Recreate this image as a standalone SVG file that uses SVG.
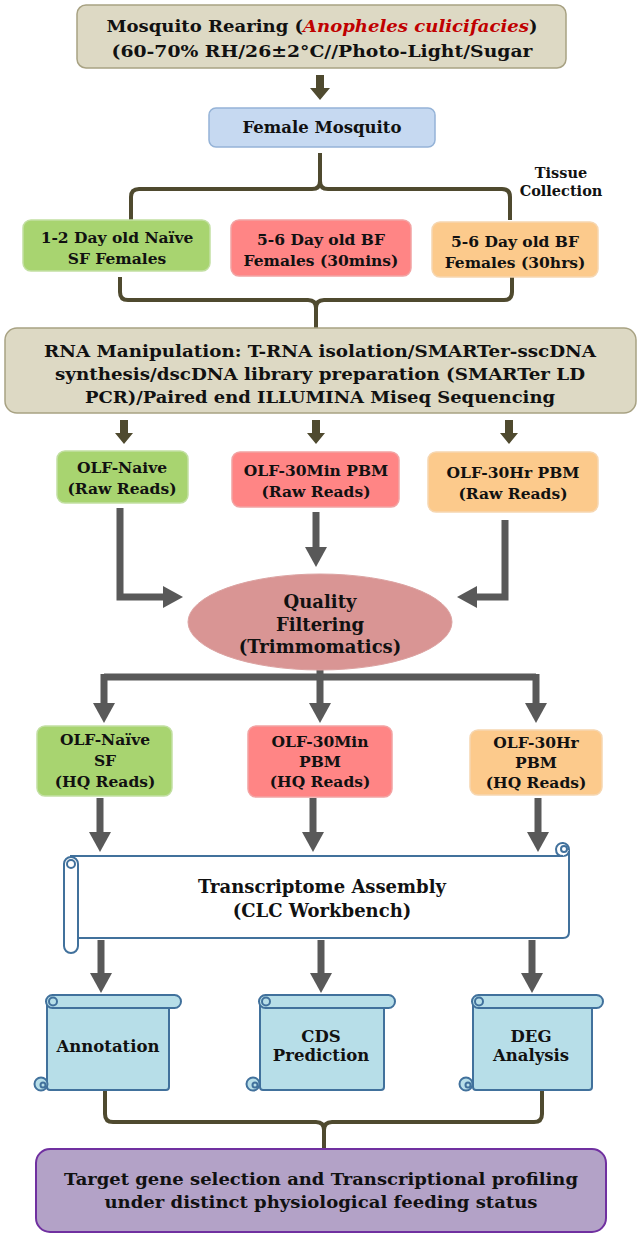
<svg xmlns="http://www.w3.org/2000/svg" width="638" height="1237" viewBox="0 0 638 1237">
<defs>
<style>
text{font-family:"DejaVu Serif","Liberation Serif",serif;font-weight:bold;fill:#111;text-anchor:middle}
.t17{font-size:17px}.t18{font-size:18px}.t16{font-size:16.5px}.t15{font-size:15.5px}.t14{font-size:14.5px}
.beige{fill:#ddd9c4;stroke:#a8a283;stroke-width:1.5}
.blue{fill:#c6d9f1;stroke:#95b3d7;stroke-width:1.5}
.green{fill:#a8d470;stroke:#c2dfa2;stroke-width:1.5}
.red{fill:#ff8585;stroke:#f2a3a3;stroke-width:1.5}
.orange{fill:#fcca8c;stroke:#f6d6b0;stroke-width:1.5}
.purple{fill:#b3a2c7;stroke:#7030a0;stroke-width:2}
.brace{fill:none;stroke:#4f4a2f;stroke-width:4;stroke-linejoin:round}
.olive{fill:#4f4a2f}
.garrow{fill:none;stroke:#595959;stroke-width:7;marker-end:url(#gh)}
.gline{fill:none;stroke:#595959;stroke-width:7}
.scroll{stroke:#41719c;stroke-width:2}
</style>
<marker id="gh" markerUnits="userSpaceOnUse" markerWidth="20" markerHeight="22" viewBox="0 0 20 22" refX="0" refY="11" orient="auto">
<path d="M0,0 L20,11 L0,22 z" fill="#595959"/>
</marker>
</defs>

<g id="connectors">
<polygon class="olive" points="316,75 324,75 324,88 330,88 320,100 310,88 316,88"/>
<path class="brace" d="M320,153 V181 Q320,189 312,189 H139 Q131,189 131,197 V220"/>
<path class="brace" d="M320,181 Q320,189 328,189 H502 Q510,189 510,197 V220"/>
<path class="brace" d="M120,277 V292 Q120,300 128,300 H308 Q316,300 316,308 V328"/>
<path class="brace" d="M512,277 V292 Q512,300 504,300 H324 Q316,300 316,308"/>
<polygon class="olive" points="120,420 128,420 128,433 133,433 124,444 115,433 120,433"/>
<polygon class="olive" points="312,420 320,420 320,433 325,433 316,444 307,433 312,433"/>
<polygon class="olive" points="505,420 513,420 513,433 518,433 509,444 500,433 505,433"/>
<path class="garrow" d="M120,508 V597 H163"/>
<path class="garrow" d="M316,512 V547"/>
<path class="garrow" d="M505,520 V597 H477"/>
<path class="gline" d="M104,677 H536"/>
<path class="garrow" d="M320,668 V703"/>
<path class="garrow" d="M104,674 V703"/>
<path class="garrow" d="M536,674 V703"/>
<path class="garrow" d="M100,798 V832"/>
<path class="garrow" d="M313,798 V832"/>
<path class="garrow" d="M538,798 V832"/>
<path class="garrow" d="M101,940 V973"/>
<path class="garrow" d="M321,940 V973"/>
<path class="garrow" d="M532,940 V973"/>
<path class="brace" d="M105,1090 V1114 Q105,1122 113,1122 H316 Q324,1122 324,1130 V1150"/>
<path class="brace" d="M542,1090 V1114 Q542,1122 534,1122 H332 Q324,1122 324,1130"/>
</g>

<g id="rearing">
<rect class="beige" x="77" y="5" width="489" height="63" rx="9"/>
<text class="t17" x="322" y="32" textLength="431" lengthAdjust="spacingAndGlyphs">Mosquito Rearing (<tspan fill="#c00000" font-style="italic">Anopheles culicifacies</tspan>)</text>
<text class="t17" x="322" y="57" textLength="421" lengthAdjust="spacingAndGlyphs">(60-70% RH/26±2°C//Photo-Light/Sugar</text>
</g>

<g id="female">
<rect class="blue" x="209" y="108" width="226" height="39" rx="7"/>
<text class="t16" x="322" y="133">Female Mosquito</text>
</g>

<g id="tissue">
<text class="t14" x="561" y="178">Tissue</text>
<text class="t14" x="561" y="196">Collection</text>
</g>

<g id="naive-sf">
<rect class="green" x="23" y="220" width="187" height="51" rx="8"/>
<text class="t15" x="117" y="243">1-2 Day old Naïve</text>
<text class="t15" x="117" y="264">SF Females</text>
</g>
<g id="bf-30min">
<rect class="red" x="231" y="220" width="180" height="56" rx="8"/>
<text class="t15" x="321" y="245">5-6 Day old BF</text>
<text class="t15" x="321" y="266">Females (30mins)</text>
</g>
<g id="bf-30hrs">
<rect class="orange" x="432" y="222" width="166" height="55" rx="8"/>
<text class="t15" x="515" y="247">5-6 Day old BF</text>
<text class="t15" x="515" y="268">Females (30hrs)</text>
</g>

<g id="rna">
<rect class="beige" x="5" y="328" width="631" height="85" rx="12"/>
<text class="t17" x="320" y="357" textLength="552" lengthAdjust="spacingAndGlyphs">RNA Manipulation: T-RNA isolation/SMARTer-sscDNA</text>
<text class="t17" x="320" y="380" textLength="530" lengthAdjust="spacingAndGlyphs">synthesis/dscDNA library preparation (SMARTer LD</text>
<text class="t17" x="320" y="403" textLength="470" lengthAdjust="spacingAndGlyphs">PCR)/Paired end ILLUMINA Miseq Sequencing</text>
</g>

<g id="raw-naive">
<rect class="green" x="57" y="451" width="131" height="52" rx="8"/>
<text class="t15" x="122" y="473">OLF-Naive</text>
<text class="t15" x="122" y="494">(Raw Reads)</text>
</g>
<g id="raw-30min">
<rect class="red" x="232" y="452" width="167" height="55" rx="8"/>
<text class="t15" x="316" y="476">OLF-30Min PBM</text>
<text class="t15" x="316" y="497">(Raw Reads)</text>
</g>
<g id="raw-30hr">
<rect class="orange" x="428" y="452" width="170" height="60" rx="8"/>
<text class="t15" x="513" y="478">OLF-30Hr PBM</text>
<text class="t15" x="513" y="499">(Raw Reads)</text>
</g>

<g id="quality">
<ellipse cx="320" cy="622" rx="132" ry="48" fill="#d99594" stroke="#dca3a2" stroke-width="1"/>
<text class="t18" x="320" y="608">Quality</text>
<text class="t18" x="320" y="631">Filtering</text>
<text class="t18" x="320" y="653">(Trimmomatics)</text>
</g>

<g id="hq-naive">
<rect class="green" x="37" y="726" width="135" height="70" rx="8"/>
<text class="t15" x="105" y="745">OLF-Naïve</text>
<text class="t15" x="105" y="766">SF</text>
<text class="t15" x="105" y="787">(HQ Reads)</text>
</g>
<g id="hq-30min">
<rect class="red" x="248" y="726" width="144" height="71" rx="8"/>
<text class="t15" x="320" y="747">OLF-30Min</text>
<text class="t15" x="320" y="767">PBM</text>
<text class="t15" x="320" y="787">(HQ Reads)</text>
</g>
<g id="hq-30hr">
<rect class="orange" x="470" y="730" width="132" height="65" rx="8"/>
<text class="t15" x="536" y="748">OLF-30Hr</text>
<text class="t15" x="536" y="768">PBM</text>
<text class="t15" x="536" y="788">(HQ Reads)</text>
</g>

<g id="assembly">
<path class="scroll" fill="#fff" d="M71,856 H563 Q569,856 569,850 V932 Q569,938 563,938 H71 Z"/>
<path class="scroll" fill="#fff" d="M569,850 A6.5,6.5 0 1 0 556,849 Q556,856 563,856"/>
<circle class="scroll" fill="#fff" cx="564" cy="849" r="3"/>
<rect class="scroll" fill="#fff" x="64" y="857" width="14" height="96" rx="7"/>
<circle class="scroll" fill="#fff" cx="71" cy="864" r="4"/>
<text class="t18" x="322" y="893">Transcriptome Assembly</text>
<text class="t18" x="322" y="917">(CLC Workbench)</text>
</g>

<g id="annotation">
<rect class="scroll" fill="#b7dee8" x="47" y="1000" width="122" height="90" rx="3"/>
<rect class="scroll" fill="#b7dee8" x="46" y="995" width="135" height="13" rx="6.5"/>
<circle class="scroll" fill="#b7dee8" cx="53" cy="1001.5" r="4"/>
<circle class="scroll" fill="#b7dee8" cx="41" cy="1084" r="6.5"/>
<circle class="scroll" fill="#b7dee8" cx="43" cy="1085" r="2.5"/>
<text class="t16" x="108" y="1052">Annotation</text>
</g>
<g id="cds">
<rect class="scroll" fill="#b7dee8" x="260" y="1000" width="124" height="90" rx="3"/>
<rect class="scroll" fill="#b7dee8" x="259" y="995" width="136" height="13" rx="6.5"/>
<circle class="scroll" fill="#b7dee8" cx="266" cy="1001.5" r="4"/>
<circle class="scroll" fill="#b7dee8" cx="253" cy="1084" r="6.5"/>
<circle class="scroll" fill="#b7dee8" cx="255" cy="1085" r="2.5"/>
<text class="t16" x="321" y="1042">CDS</text>
<text class="t16" x="321" y="1061">Prediction</text>
</g>
<g id="deg">
<rect class="scroll" fill="#b7dee8" x="473" y="1000" width="119" height="90" rx="3"/>
<rect class="scroll" fill="#b7dee8" x="472" y="995" width="131" height="13" rx="6.5"/>
<circle class="scroll" fill="#b7dee8" cx="479" cy="1001.5" r="4"/>
<circle class="scroll" fill="#b7dee8" cx="466" cy="1084" r="6.5"/>
<circle class="scroll" fill="#b7dee8" cx="468" cy="1085" r="2.5"/>
<text class="t16" x="531" y="1042">DEG</text>
<text class="t16" x="531" y="1061">Analysis</text>
</g>

<g id="target">
<rect class="purple" x="36" y="1149" width="570" height="83" rx="14"/>
<text class="t17" x="321" y="1185" textLength="514" lengthAdjust="spacingAndGlyphs">Target gene selection and Transcriptional profiling</text>
<text class="t17" x="321" y="1208" textLength="433" lengthAdjust="spacingAndGlyphs">under distinct physiological feeding status</text>
</g>
</svg>
